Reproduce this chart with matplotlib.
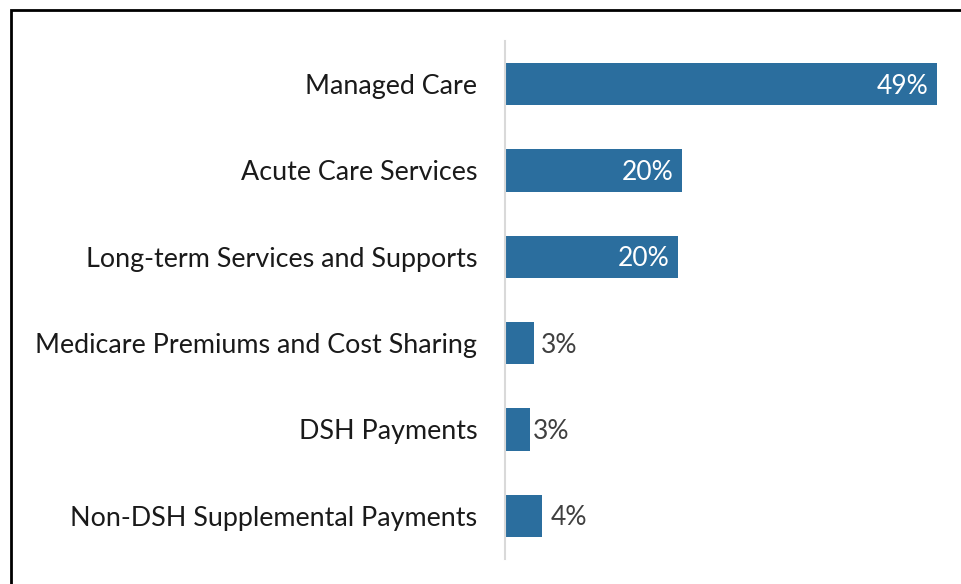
import matplotlib
matplotlib.use("Agg")
import matplotlib.pyplot as plt
from matplotlib.patches import Rectangle

categories = ["Managed Care", "Acute Care Services", "Long-term Services and Supports",
              "Medicare Premiums and Cost Sharing", "DSH Payments", "Non-DSH Supplemental Payments"]
values = [49.0, 20.1, 19.6, 3.3, 2.8, 4.2]
labels = ["49%", "20%", "20%", "3%", "3%", "4%"]

BAR = "#2B6E9E"
plt.rcParams['font.family'] = ['Lato', 'DejaVu Sans']

fig = plt.figure(figsize=(9.62, 5.84), dpi=100)
ax = fig.add_axes([505/962, 1-559/584, 441/962, (559-41)/584])

y = list(range(len(categories)))
ax.barh(y, values, height=0.49, color=BAR)
ax.set_ylim(len(categories)-0.5, -0.5)
ax.set_xlim(0, 50)
ax.set_yticks(y)
ax.set_yticklabels(categories, fontsize=19.4, color="#1a1a1a")
ax.tick_params(axis='y', length=0, pad=20)
ax.set_xticks([])
for s in ["top", "right", "bottom"]:
    ax.spines[s].set_visible(False)
ax.spines["left"].set_color("#d9d9d9")
ax.spines["left"].set_linewidth(1.5)

offsets = [-6, -6, -6, 5, 2, 6]
for yi, v, lab, off in zip(y, values, labels, offsets):
    if v > 10:
        ax.annotate(lab, (v, yi), xytext=(off, -1.5), textcoords="offset points",
                    ha="right", va="center", color="white", fontsize=19)
    else:
        ax.annotate(lab, (v, yi), xytext=(off, -1.5), textcoords="offset points",
                    ha="left", va="center", color="#404040", fontsize=19)

fig.patches.append(Rectangle((10.5/962, -0.1), 1.2, 1.1 - 10.5/584,
                             transform=fig.transFigure, fill=False,
                             edgecolor="black", linewidth=2, clip_on=False))
fig.savefig("out.png", dpi=100)
